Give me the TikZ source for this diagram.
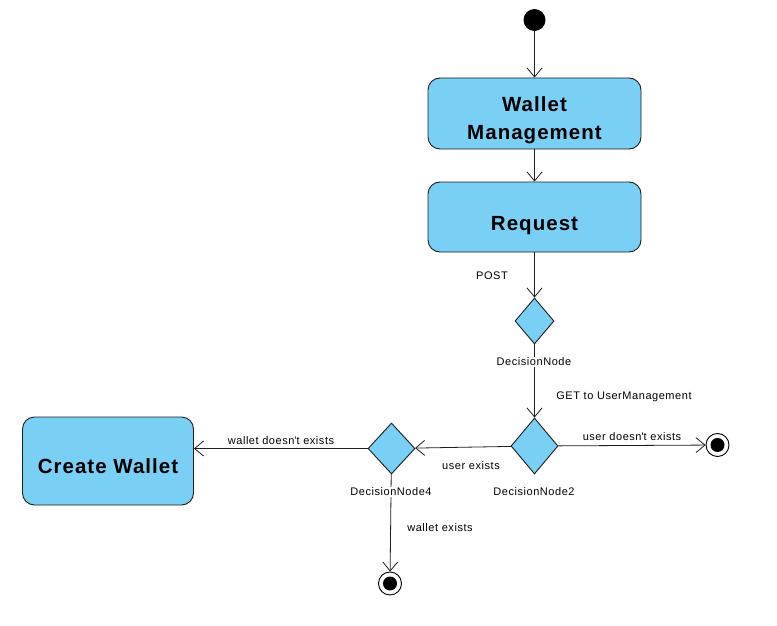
\documentclass[tikz,border=0pt]{standalone}
\usepackage{fontspec}
\setmainfont{Liberation Sans}
\usetikzlibrary{shapes.geometric,arrows.meta}
\definecolor{actfill}{RGB}{122,207,245}
\definecolor{edgecol}{RGB}{30,30,30}
\tikzset{
  act/.style={draw=edgecol, fill=actfill, line width=0.9pt, rounded corners=12pt, minimum width=213pt, minimum height=71pt, inner sep=0pt, font=\fontsize{20.5}{28}\selectfont\bfseries\addfontfeature{LetterSpace=5}},
  dec/.style={draw=edgecol, fill=actfill, line width=0.9pt, diamond, inner sep=0pt},
  startnode/.style={circle, fill=black, minimum size=22pt, inner sep=0pt},
  endnode/.style={circle, draw=black, fill=white, line width=0.9pt, minimum size=23pt, inner sep=0pt, path picture={\fill[black] (path picture bounding box.center) circle (7pt);}},
  flow/.style={draw=edgecol, line width=0.8pt, -{Straight Barb[length=9pt,width=15pt,line width=0.8pt]}},
  lbl/.style={font=\fontsize{11}{13}\selectfont\addfontfeature{LetterSpace=5}, inner sep=1pt},
}
\begin{document}
\begin{tikzpicture}[x=1pt,y=-1pt]
\useasboundingbox (0,0) rectangle (777,626);
\node[startnode] (start) at (534.5,20) {};
\node[act, text height=0pt, text depth=3.6pt] (wm) at (534.5,113.5) {\begin{tabular}[t]{@{}c@{}}Wallet\\Management\end{tabular}};
\node[act, minimum height=70pt, text height=26pt, text depth=0pt] (req) at (534.5,217) {Request};
\node[dec, minimum width=39pt, minimum height=46pt] (dn) at (534.5,321) {};
\node[dec, minimum width=47pt, minimum height=56pt] (dn2) at (534.5,446) {};
\node[dec, minimum width=47pt, minimum height=51pt] (dn4) at (391.5,448.5) {};
\node[endnode] (endR) at (717.5,445) {};
\node[endnode] (endB) at (390,583.5) {};
\node[act, minimum width=171pt, minimum height=88pt, text height=24.6pt, text depth=0pt] (cw) at (108,461) {Create Wallet};

\node[lbl] (dn2lbl) at (534,492) {DecisionNode2};

\draw[flow] (start) -- (wm);
\draw[flow] (wm) -- (req);
\draw[flow] (req) -- (dn) node[lbl] (postlbl) at (492,276) {POST};
\draw[flow] (dn) -- (dn2)
  node[lbl, fill=white] (dnlbl) at (534,362) {DecisionNode}
  node[lbl] (getlbl) at (624,397) {GET to UserManagement};
\draw[flow] (dn2) -- (endR) node[lbl] (udnlbl) at (632,437) {user doesn\textquotesingle t exists};
\draw[flow] (dn2) -- (dn4) node[lbl] (uelbl) at (471,466) {user exists};
\draw[flow] (dn4.west) -- (dn4.west -| cw.east) node[lbl] (wdnlbl) at (281,441) {wallet doesn\textquotesingle t exists};
\draw[flow] (dn4) -- (endB)
  node[lbl, fill=white] (dn4lbl) at (391,492) {DecisionNode4}
  node[lbl] (welbl) at (440,528) {wallet exists};
\end{tikzpicture}
\end{document}
